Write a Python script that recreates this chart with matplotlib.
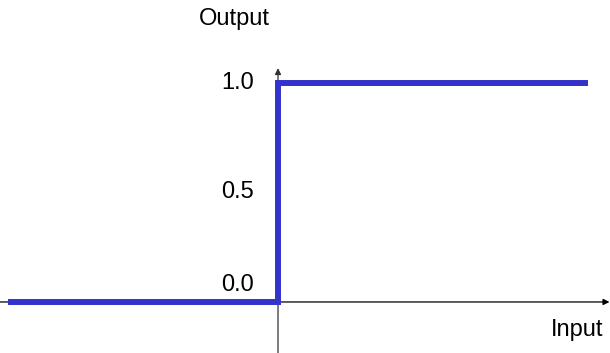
import matplotlib.pyplot as plt

plt.rcParams['font.family'] = ['Liberation Sans', 'DejaVu Sans']

# step function data
step_x = [-1.0, 0.0, 0.0, 1.148]
step_y = [0.0, 0.0, 1.0, 1.0]
tick_vals = [0.0, 0.5, 1.0]
tick_labels = ['0.0', '0.5', '1.0']

fig = plt.figure(figsize=(6.1, 3.53), dpi=100)
ax = fig.add_axes([0, 0, 1, 1])
ax.set_xlim(-1.03, 1.23)
ax.set_ylim(-0.233, 1.379)
ax.axis('off')

# axes with arrows
ax.annotate('', xy=(1.228, 0), xytext=(-1.03, 0),
            arrowprops=dict(arrowstyle='-|>', color='black', lw=0.9,
                            mutation_scale=9, shrinkA=0, shrinkB=0))
ax.annotate('', xy=(0, 1.068), xytext=(0, -0.233),
            arrowprops=dict(arrowstyle='-|>', color='#333333', lw=0.9,
                            mutation_scale=9, shrinkA=0, shrinkB=0))

ax.plot(step_x, step_y, color='#3333cc', lw=4.3, solid_joinstyle='miter',
        solid_capstyle='butt', zorder=3)

for v, lab in zip(tick_vals, tick_labels):
    dy = 0.078 if v == 0 else 0.0
    ax.text(-0.089, v + dy, lab, ha='right', va='center', fontsize=17)

ax.text(-0.03, 1.29, 'Output', ha='right', va='center', fontsize=17)
ax.text(1.204, -0.128, 'Input', ha='right', va='center', fontsize=17)

fig.savefig('out.png', dpi=100)
